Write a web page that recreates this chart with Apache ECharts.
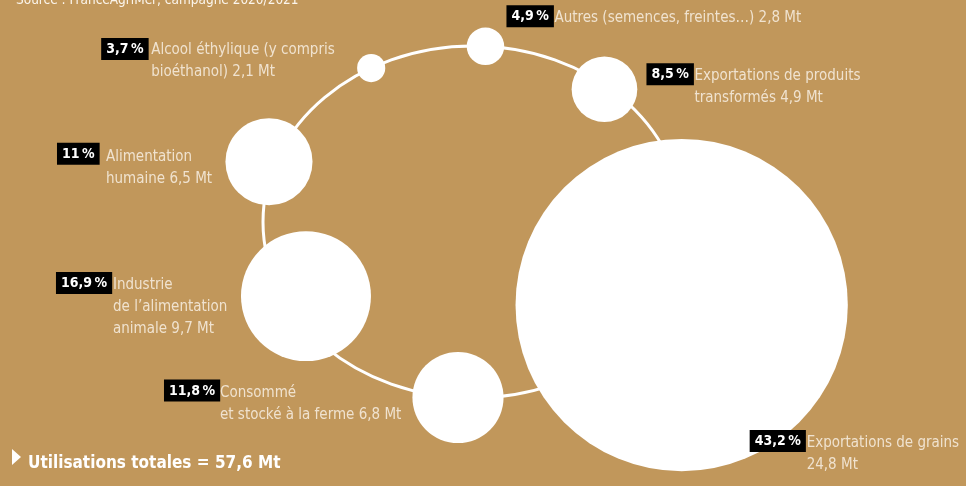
<!DOCTYPE html>
<html style="height: 100%">
<head>
    <meta charset="UTF-8">
    <title>Utilisations du blé tendre</title>
    <script src="https://cdn.jsdelivr.net/npm/echarts/dist/echarts.min.js"></script>
    <style>
        #main {
            width: 966px;
            height: 486px;
        }
    </style>
</head>
<body style="margin: 0; background: #C1975B">
    <div id="main"></div>
    <script type="text/javascript">
        // données : utilisations en millions de tonnes
        var labels = [
            'Alcool éthylique (y compris\nbioéthanol) 2,1 Mt',
            'Autres (semences, freintes…) 2,8 Mt',
            'Exportations de produits\ntransformés 4,9 Mt',
            'Alimentation\nhumaine 6,5 Mt',
            'Industrie\nde l’alimentation\nanimale 9,7 Mt',
            'Consommé\net stocké à la ferme 6,8 Mt',
            'Exportations de grains\n24,8 Mt'
        ];
        var values = [2.1, 2.8, 4.9, 6.5, 9.7, 6.8, 24.8];
        var percents = ['3,7', '4,9', '8,5', '11', '16,9', '11,8', '43,2'];
        var total = '57,6';

        // placement des bulles sur l'anneau (angle en degrés, distance relative)
        var angles = [119, 86.6, 50.3, 160.6, 207.9, 265.9, 334.6];
        var ringDist = [1, 1, 0.98, 1.03, 0.9, 1, 1.1];

        // décalage des étiquettes par rapport au centre de la bulle (px)
        var pctOffset = [[-270, -30], [21, -41], [42, -26], [-212, -19], [-250, -24], [-294, -18], [68, 125]];
        var txtOffset = [[-220, -29], [69, -39], [90, -24], [-163, -16], [-193, -22], [-238, -15], [125, 127]];

        var textFont = "'DejaVu Sans Condensed', Roboto, sans-serif";

        var bubbles = values.map(function (v, i) {
            var a = angles[i] * Math.PI / 180;
            return {
                value: [ringDist[i] * Math.cos(a), ringDist[i] * Math.sin(a), v],
                label: { offset: pctOffset[i] }
            };
        });
        var texts = values.map(function (v, i) {
            var a = angles[i] * Math.PI / 180;
            return {
                value: [ringDist[i] * Math.cos(a), ringDist[i] * Math.sin(a)],
                label: { offset: txtOffset[i] }
            };
        });

        var chartDom = document.getElementById('main');
        var myChart = echarts.init(chartDom);
        var option;

        option = {
            backgroundColor: '#C1975B',
            animation: false,
            title: [{
                text: 'Source : FranceAgriMer, campagne 2020/2021',
                left: 11,
                top: -12,
                textStyle: { fontFamily: textFont, fontSize: 13.5, fontWeight: 'normal', color: '#FBF5EC' }
            }, {
                text: 'Utilisations totales = ' + total + ' Mt',
                left: 23,
                top: 450,
                textStyle: { fontFamily: textFont, fontSize: 17, fontWeight: 'bold', color: '#ffffff' }
            }],
            graphic: [{
                type: 'polygon',
                shape: { points: [[12, 449], [21, 457], [12, 465]] },
                style: { fill: '#ffffff' }
            }],
            grid: { left: 263, top: 46, width: 420, height: 352 },
            xAxis: { type: 'value', min: -1, max: 1, show: false },
            yAxis: { type: 'value', min: -1, max: 1, show: false },
            series: [{
                type: 'custom',
                z: 1,
                silent: true,
                data: [[0, 0]],
                renderItem: function (params, api) {
                    var c = api.coord([0, 0]);
                    var s = api.size([1, 1]);
                    return {
                        type: 'ellipse',
                        shape: { cx: c[0], cy: c[1], rx: s[0], ry: s[1] },
                        style: { fill: 'none', stroke: '#ffffff', lineWidth: 3 }
                    };
                }
            }, {
                type: 'scatter',
                z: 2,
                clip: false,
                data: bubbles,
                symbolSize: function (d) {
                    return d[2] * 13.4;
                },
                itemStyle: { color: '#ffffff', opacity: 1 },
                label: {
                    show: true,
                    position: 'inside',
                    align: 'left',
                    verticalAlign: 'top',
                    formatter: function (p) {
                        return percents[p.dataIndex] + '\u202F%';
                    },
                    backgroundColor: '#000000',
                    padding: [3, 5, 2, 5],
                    lineHeight: 17,
                    color: '#ffffff',
                    fontFamily: textFont,
                    fontSize: 14,
                    fontWeight: 'bold'
                },
                emphasis: { disabled: true }
            }, {
                type: 'scatter',
                z: 3,
                clip: false,
                data: texts,
                symbolSize: 0,
                label: {
                    show: true,
                    position: 'inside',
                    align: 'left',
                    verticalAlign: 'top',
                    formatter: function (p) {
                        return labels[p.dataIndex];
                    },
                    lineHeight: 22,
                    color: '#FBF5EC',
                    fontFamily: textFont,
                    fontSize: 15
                },
                emphasis: { disabled: true }
            }]
        };

        myChart.setOption(option);
    </script>
</body>
</html>
